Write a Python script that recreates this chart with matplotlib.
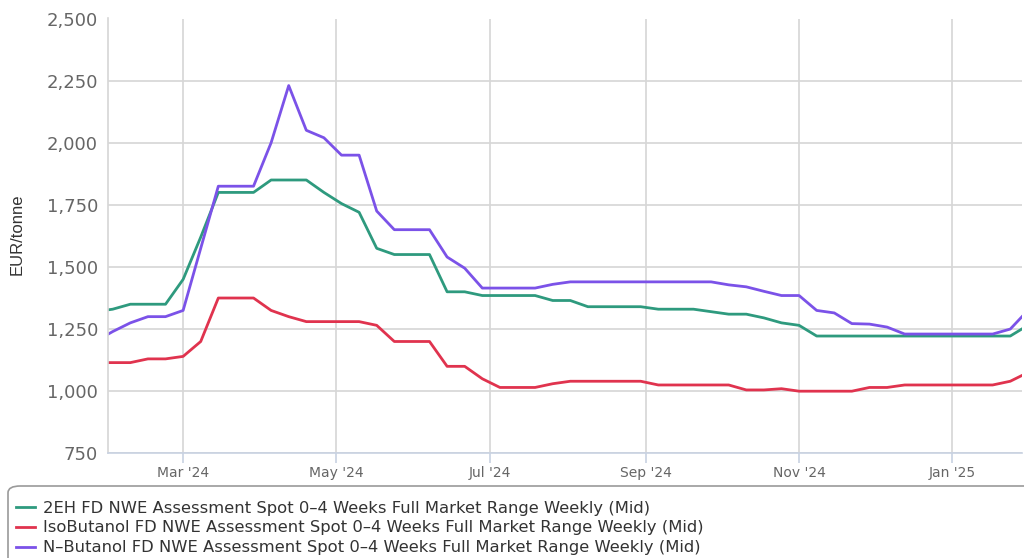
import numpy as np
import pandas as pd
import matplotlib
matplotlib.use("Agg")
import matplotlib.pyplot as plt
import matplotlib.dates as mdates
from matplotlib.patches import FancyBboxPatch

# weekly assessment dates (Fridays)
dates = pd.date_range("2024-01-26", "2025-01-31", freq="W-FRI")

eh2 = [1320, 1330, 1350, 1350, 1350, 1450, 1620, 1800, 1800, 1800,
       1850, 1850, 1850, 1800, 1755, 1720, 1575, 1550, 1550, 1550,
       1400, 1400, 1385, 1385, 1385, 1385, 1365, 1365, 1340, 1340,
       1340, 1340, 1330, 1330, 1330, 1320, 1310, 1310, 1295, 1275,
       1265, 1222, 1222, 1222, 1222, 1222, 1222, 1222, 1222, 1222,
       1222, 1222, 1222, 1265]

isobutanol = [1115, 1115, 1115, 1130, 1130, 1140, 1200, 1375, 1375, 1375,
              1325, 1300, 1280, 1280, 1280, 1280, 1265, 1200, 1200, 1200,
              1100, 1100, 1050, 1015, 1015, 1015, 1030, 1040, 1040, 1040,
              1040, 1040, 1025, 1025, 1025, 1025, 1025, 1005, 1005, 1010,
              1000, 1000, 1000, 1000, 1015, 1015, 1025, 1025, 1025, 1025,
              1025, 1025, 1040, 1075]

nbutanol = [1200, 1240, 1275, 1300, 1300, 1325, 1575, 1825, 1825, 1825,
            2000, 2230, 2050, 2020, 1950, 1950, 1725, 1650, 1650, 1650,
            1540, 1495, 1415, 1415, 1415, 1415, 1430, 1440, 1440, 1440,
            1440, 1440, 1440, 1440, 1440, 1440, 1428, 1420, 1402, 1385,
            1385, 1325, 1315, 1272, 1270, 1258, 1230, 1230, 1230, 1230,
            1230, 1230, 1250, 1325]

labels = [
    "2EH FD NWE Assessment Spot 0\u20134 Weeks Full Market Range Weekly (Mid)",
    "IsoButanol FD NWE Assessment Spot 0\u20134 Weeks Full Market Range Weekly (Mid)",
    "N\u2013Butanol FD NWE Assessment Spot 0\u20134 Weeks Full Market Range Weekly (Mid)",
]
colors = ["#2e9a7e", "#e0334e", "#7b52e8"]

W, H = 1024, 558
fig = plt.figure(figsize=(W / 100, H / 100), dpi=100)
ax = fig.add_axes([107.7 / W, 1 - 453.3 / H, (1022 - 107.7) / W, (453.3 - 18.5) / H])

lines = []
for vals, c, lab in zip([eh2, isobutanol, nbutanol], colors, labels):
    ln, = ax.plot(dates, vals, color=c, lw=2.0, label=lab, solid_joinstyle="round")
    lines.append(ln)

ax.set_xlim(pd.Timestamp("2024-01-31"), pd.Timestamp("2025-01-28 16:00"))
ax.set_ylim(750, 2500)
ax.set_yticks(np.arange(750, 2501, 250))
ax.yaxis.set_major_formatter(matplotlib.ticker.FuncFormatter(lambda v, p: f"{int(v):,}"))
ax.xaxis.set_major_locator(mdates.MonthLocator(bymonth=[1, 3, 5, 7, 9, 11]))
ax.xaxis.set_major_formatter(mdates.DateFormatter("%b '%y"))

ax.grid(True, color="#d6d6d6", lw=1.2)
ax.set_axisbelow(True)
for s in ["top", "right"]:
    ax.spines[s].set_visible(False)
ax.spines["left"].set_color("#d6d6d6")
ax.spines["bottom"].set_color("#c8d2e2")
ax.spines["left"].set_linewidth(1.2)
ax.spines["bottom"].set_linewidth(1.2)

ax.tick_params(axis="y", length=0, pad=7, labelsize=13, labelcolor="#666666")
ax.tick_params(axis="x", length=7, width=1.2, color="#c8d2e2", pad=2,
               labelsize=10, labelcolor="#666666")

fig.text(17 / W, 1 - 234 / H, "EUR/tonne", rotation=90, ha="center", va="center",
         fontsize=12, color="#333333", family="Liberation Sans")

# legend box, clipped at the bottom of the image
box = FancyBboxPatch((8 / W, -0.2), 1.1, 1 - 486 / H + 0.2,
                     boxstyle="round,pad=0,rounding_size=0.012",
                     transform=fig.transFigure, facecolor="white",
                     edgecolor="#9a9a9a", lw=1.2)
fig.patches.append(box)
fig.legend(handles=lines, loc="upper left", bbox_to_anchor=(9 / W, 1 - 494 / H),
           frameon=False, handlelength=1.2, handletextpad=0.45,
           labelspacing=0.3, borderaxespad=0, labelcolor="#333333",
           prop={"family": "DejaVu Sans", "size": 11.8})

fig.savefig("out.png", dpi=100)
